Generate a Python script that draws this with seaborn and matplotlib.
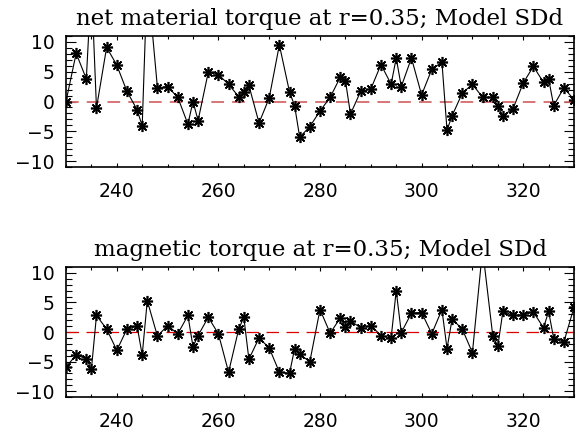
import matplotlib
matplotlib.use("Agg")
import matplotlib.pyplot as plt
import seaborn as sns
import pandas as pd
from matplotlib.ticker import MultipleLocator

# sample times (same for both panels)
time = [230, 232, 234, 235, 236, 238, 240, 242, 244, 245, 246, 248, 250,
        252, 254, 255, 256, 258, 260, 262, 264, 265, 266, 268, 270, 272,
        274, 275, 276, 278, 280, 282, 284, 285, 286, 288, 290, 292, 294,
        295, 296, 298, 300, 302, 304, 305, 306, 308, 310, 312, 314, 315,
        316, 318, 320, 322, 324, 325, 326, 328, 330]

# net material torque (two points run off the top of the plot)
material = [0.0, 8.1, 3.8, 20.0, -1.1, 9.1, 6.1, 1.7, -1.4, -4.1, 21.0, 2.3, 2.5,
            0.7, -3.8, 0.0, -3.2, 4.9, 4.5, 2.9, 0.8, 1.6, 2.7, -3.6, 0.6, 9.5,
            1.6, -0.7, -6.0, -4.2, -1.6, 0.7, 4.1, 3.5, -2.1, 1.7, 2.1, 6.2, 2.9,
            7.3, 2.5, 7.3, 1.1, 5.4, 6.6, -4.8, -2.4, 1.4, 2.9, 0.7, 0.7, -0.7,
            -2.4, -1.2, 3.1, 5.9, 3.2, 3.8, -0.7, 2.3, 0.3]

# magnetic torque
magnetic = [-5.9, -3.9, -4.5, -6.3, 2.8, 0.5, -3.1, 0.5, 1.0, -3.9, 5.3, -0.7, 1.1,
            -0.3, 2.8, -2.5, -0.6, 2.5, -0.3, -6.8, 0.5, 2.5, -4.6, -1.0, -2.7, -6.8,
            -7.0, -2.8, -3.8, -5.0, 3.8, -0.2, 2.4, 0.8, 1.9, 0.7, 1.1, -0.6, -1.0,
            7.0, -0.1, 3.2, 3.3, -0.3, 3.8, -2.8, 2.2, 0.5, -3.5, 14.0, -0.6, -2.4,
            3.5, 2.8, 2.9, 3.4, 0.7, 3.5, -1.1, -1.7, 4.2]

titles = ["net material torque at r=0.35; Model SDd",
          "magnetic torque at r=0.35; Model SDd"]

sns.set_style("white")
plt.rcParams["font.family"] = ["DejaVu Sans"]
plt.rcParams.update({
    "xtick.direction": "in",
    "ytick.direction": "in",
    "xtick.top": True,
    "ytick.right": True,
    "xtick.bottom": True,
    "ytick.left": True,
    "xtick.color": "black",
    "ytick.color": "black",
    "xtick.labelcolor": "black",
    "ytick.labelcolor": "black",
    "xtick.major.size": 3,
    "xtick.minor.size": 2,
    "ytick.major.size": 7,
    "ytick.minor.size": 4,
    "xtick.major.width": 0.8,
    "xtick.minor.width": 0.8,
    "ytick.major.width": 0.8,
    "ytick.minor.width": 0.8,
    "xtick.minor.visible": True,
    "ytick.minor.visible": True,
})

fig = plt.figure(figsize=(5.83, 4.30), dpi=100)
ax_top = fig.add_axes([0.1132, 0.6116, 0.8714, 0.3047])
ax_bot = fig.add_axes([0.1132, 0.0767, 0.8714, 0.3023])

panels = [
    (ax_top, material, titles[0], "#d66a6a", 1.3, (7, 4.5)),
    (ax_bot, magnetic, titles[1], "#dd0000", 0.9, (10, 6)),
]

for ax, values, title, zero_color, zero_lw, zero_dash in panels:
    df = pd.DataFrame({"time": time, "torque": values})

    # dashed zero line
    ax.axhline(0, color=zero_color, lw=zero_lw, dashes=zero_dash, zorder=1)

    sns.lineplot(
        data=df,
        x="time",
        y="torque",
        ax=ax,
        color="black",
        lw=0.8,
        marker=(8, 2, 0),
        markersize=8,
        markeredgewidth=1.2,
        markeredgecolor="black",
        zorder=2
    )

    ax.set_xlim(230, 330)
    ax.set_ylim(-11, 11)
    ax.xaxis.set_major_locator(MultipleLocator(20))
    ax.xaxis.set_minor_locator(MultipleLocator(5))
    ax.yaxis.set_major_locator(MultipleLocator(5))
    ax.yaxis.set_minor_locator(MultipleLocator(1))

    ax.tick_params(axis="x", which="major", pad=11, labelsize=13.5)
    ax.tick_params(axis="y", which="major", pad=8, labelsize=13.5)

    for side in ax.spines.values():
        side.set_linewidth(1.2)
        side.set_color("black")

    ax.set_xlabel("")
    ax.set_ylabel("")
    ax.set_title(title, fontsize=16.5, family="DejaVu Serif", pad=8,
                 color="black")

fig.savefig("out.png", dpi=100)
plt.close(fig)
